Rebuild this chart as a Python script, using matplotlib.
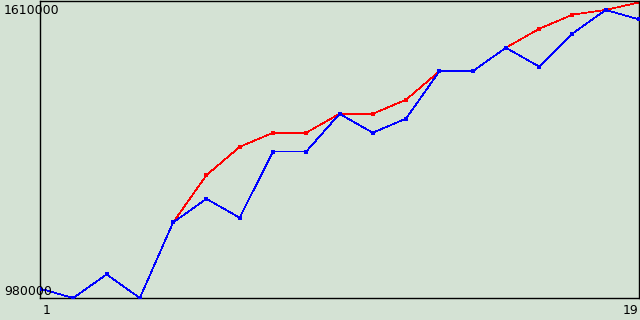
import matplotlib
matplotlib.use("Agg")
import matplotlib.pyplot as plt
import numpy as np

x = np.arange(1, 20)
blue = [1000000, 980000, 1030000, 980000, 1140000, 1190000, 1150000, 1290000, 1290000,
        1370000, 1330000, 1360000, 1460000, 1460000, 1510000, 1470000, 1540000, 1590000, 1570000]
red_x = np.arange(5, 20)
red = [1140000, 1240000, 1300000, 1330000, 1330000, 1370000, 1370000, 1400000,
       1460000, 1460000, 1510000, 1550000, 1580000, 1590000, 1606000]
ymin, ymax = 980000, 1610000

bg = "#d4e2d4"
fig = plt.figure(figsize=(6.4, 3.2), dpi=100, facecolor=bg)
ax = fig.add_axes([40/640, 22/320, 599/640, 297.5/320])
ax.set_facecolor(bg)

ax.plot(red_x, red, color="#ff0000", lw=0.5, marker="s", ms=3, mew=0, antialiased=False, zorder=2)
ax.plot(x, blue, color="#0000ff", lw=0.5, marker="s", ms=3, mew=0, antialiased=False, zorder=3)

ax.set_xlim(1, 19)
ax.set_ylim(ymin, ymax)
ax.set_xticks([])
ax.set_yticks([])
for s in ax.spines.values():
    s.set_color("black")
    s.set_linewidth(1.0)

fs = 9
fig.text(4/640, 1 - 4/320, str(ymax), ha="left", va="top", fontsize=fs)
fig.text(4/640, 22/320, str(ymin), ha="left", va="bottom", fontsize=fs)
fig.text(43/640, 3/320, "1", ha="left", va="bottom", fontsize=fs)
fig.text(638/640, 3/320, "19", ha="right", va="bottom", fontsize=fs)

fig.savefig("out.png", dpi=100, facecolor=bg)
